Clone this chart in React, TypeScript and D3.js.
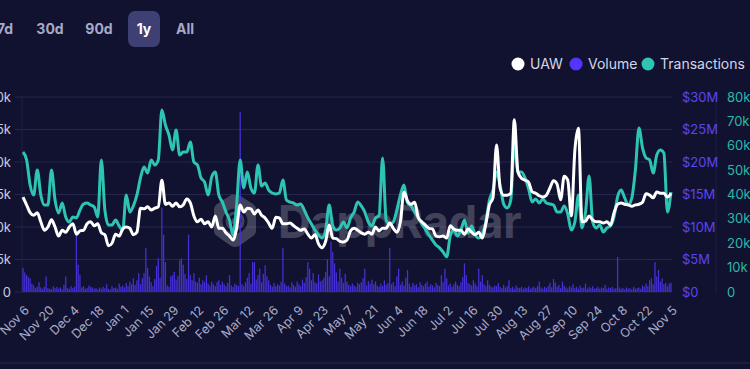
import React from 'react';
import * as d3 from 'd3';

// UAW in thousands, one value every 2 days from Nov 6
const uaw = [
  14.6, 13.4, 12.2, 11.8, 12.2, 10.8, 9.5, 10.0, 11.1, 10.0, 8.6, 9.5, 9.2, 10.0, 10.5, 8.9,
  9.4, 9.5, 10.5, 10.8, 10.2, 10.5, 9.1, 8.8, 7.1, 7.5, 8.9, 8.6, 9.7, 10.0, 9.8, 8.8,
  9.2, 12.9, 12.8, 13.1, 12.6, 12.9, 13.1, 17.2, 13.5, 13.7, 13.2, 13.7, 13.1, 13.4, 14.3, 13.7,
  11.7, 10.8, 11.2, 10.5, 10.8, 10.0, 11.7, 9.8, 9.8, 9.1, 8.6, 8.0, 9.8, 13.4, 12.3, 12.9,
  12.8, 12.0, 12.6, 11.8, 11.4, 10.6, 9.8, 11.5, 11.4, 10.5, 10.5, 10.6, 10.2, 9.8, 9.5, 9.7,
  8.9, 8.3, 8.8, 7.4, 6.8, 7.8, 10.3, 8.3, 8.2, 7.8, 7.7, 8.0, 9.4, 9.8, 9.5, 9.1,
  8.9, 9.2, 8.9, 10.0, 9.4, 9.8, 9.8, 10.6, 9.8, 9.2, 10.8, 15.4, 14.0, 13.5, 13.8, 11.5,
  10.8, 10.3, 9.8, 9.7, 8.6, 8.5, 8.6, 8.3, 10.2, 9.7, 9.5, 9.5, 8.9, 9.7, 9.2, 8.8,
  9.2, 8.3, 10.5, 13.4, 14.5, 22.6, 16.0, 14.9, 14.9, 15.2, 26.5, 18.5, 17.5, 17.2, 16.9, 15.4,
  15.2, 14.8, 14.6, 14.9, 16.0, 17.1, 16.6, 14.2, 17.8, 17.2, 11.7, 21.8, 25.2, 10.8, 10.9, 11.7,
  11.1, 10.8, 10.8, 10.6, 10.8, 10.3, 12.2, 13.5, 13.7, 13.5, 13.4, 13.2, 13.4, 13.5, 13.8, 15.1,
  14.9, 14.5, 15.4, 15.2, 15.2, 14.6, 15.2
];

// Transactions in thousands, one value every 2 days from Nov 6
const transactions = [
  57.4, 54.2, 43.9, 39.8, 50.1, 39.8, 35.7, 35.7, 50.1, 37.7, 32.4, 36.5, 30.8, 28.7, 30.8, 30.4,
  33.6, 36.1, 36.5, 35.7, 34.9, 30.8, 54.2, 33.6, 27.5, 27.5, 29.5, 27.1, 25.4, 39.8, 32.8, 35.3,
  39.8, 46.8, 51.3, 48.8, 54.2, 52.1, 54.2, 74.7, 68.5, 64.4, 58.3, 66.5, 56.2, 57.4, 57.4, 61.5,
  53.3, 52.1, 46.8, 45.1, 39.8, 47.2, 49.2, 39.8, 36.9, 32.8, 29.5, 23.4, 35.7, 54.2, 42.7, 49.2,
  42.7, 40.6, 52.1, 43.5, 44.7, 41.8, 40.6, 40.2, 40.6, 45.9, 37.7, 36.9, 36.5, 35.7, 36.1, 33.6,
  30.4, 27.9, 25.4, 23.4, 22.2, 25.4, 35.7, 27.1, 25.4, 26.3, 28.7, 26.3, 30.4, 32.8, 36.9, 35.3,
  32.8, 28.7, 27.1, 30.4, 31.2, 55.0, 29.5, 27.9, 28.7, 33.6, 39.8, 43.9, 36.5, 35.3, 32.8, 30.4,
  27.9, 25.8, 23.4, 21.3, 19.3, 18.1, 16.4, 14.4, 23.0, 25.4, 23.0, 25.4, 29.5, 24.2, 27.1, 23.4,
  22.2, 23.8, 28.7, 37.7, 41.8, 49.2, 43.9, 36.1, 34.5, 37.7, 61.5, 49.2, 49.2, 46.8, 42.3, 36.9,
  38.2, 36.5, 38.2, 36.5, 36.1, 35.7, 32.8, 32.8, 35.3, 32.0, 25.4, 28.7, 39.8, 26.3, 32.8, 47.6,
  28.7, 26.3, 27.5, 24.6, 26.3, 27.1, 30.8, 39.0, 41.8, 38.6, 35.7, 38.6, 50.1, 67.3, 59.1, 55.0,
  54.2, 48.8, 56.2, 58.3, 57.0, 32.8, 41.0
];

// Daily volume in $M from Nov 6
const volume = [
  3.7, 3.0, 2.6, 2.3, 2.1, 1.3, 1.0, 0.6, 0.8, 1.5, 0.7, 0.5, 0.8, 2.4,
  0.6, 0.5, 0.4, 0.9, 0.6, 0.8, 0.5, 0.7, 0.4, 1.1, 2.4, 0.6, 0.5, 0.9,
  0.6, 0.8, 9.2, 4.2, 2.6, 0.7, 0.9, 0.5, 0.6, 1.0, 0.8, 0.7, 0.5, 0.6,
  0.4, 0.7, 0.5, 0.8, 0.6, 1.2, 0.5, 0.4, 0.9, 0.6, 0.7, 0.5, 1.3, 0.8,
  1.0, 0.7, 1.4, 0.9, 1.6, 1.2, 2.1, 1.1, 1.8, 2.9, 1.2, 2.1, 2.9, 6.8,
  3.7, 2.4, 1.5, 0.9, 2.0, 4.0, 5.2, 2.2, 13.0, 8.8, 4.6, 1.0, 0.8, 2.4,
  2.6, 3.1, 1.9, 2.5, 4.9, 5.2, 4.2, 2.8, 2.0, 8.8, 2.6, 1.8, 2.9, 1.6,
  1.4, 2.2, 1.2, 1.8, 1.5, 2.6, 1.3, 1.0, 1.6, 1.2, 0.9, 1.5, 1.8, 1.1,
  1.6, 1.2, 0.9, 1.4, 2.6, 1.0, 0.8, 1.3, 1.1, 0.9, 27.7, 1.2, 0.9, 1.5,
  2.2, 2.9, 1.3, 4.6, 4.6, 1.9, 2.6, 3.6, 1.5, 2.8, 4.1, 2.4, 1.8, 1.1,
  0.8, 1.4, 0.9, 1.2, 1.0, 1.6, 6.8, 1.3, 0.9, 1.0, 0.7, 1.5, 1.1, 0.8,
  1.6, 1.2, 0.9, 1.9, 1.4, 2.3, 4.6, 3.6, 1.8, 2.9, 1.5, 1.3, 2.7, 1.6,
  1.8, 2.2, 3.1, 5.0, 2.4, 7.7, 6.2, 4.4, 3.0, 1.6, 3.6, 2.2, 1.4, 2.8,
  1.6, 1.1, 0.9, 1.3, 1.0, 0.8, 1.4, 1.2, 1.5, 2.1, 3.6, 1.0, 1.7, 1.3,
  1.9, 1.2, 1.6, 1.0, 0.8, 1.3, 0.9, 1.8, 1.1, 1.4, 6.8, 1.2, 1.5, 0.9,
  2.4, 3.6, 1.1, 1.6, 1.0, 2.2, 3.4, 1.3, 0.8, 1.4, 1.0, 1.2, 0.7, 1.5,
  1.1, 0.9, 1.3, 1.6, 0.8, 1.2, 1.0, 0.7, 1.4, 1.1, 0.9, 2.6, 1.5, 3.6,
  2.1, 1.0, 1.3, 0.8, 1.2, 1.6, 1.1, 0.9, 1.5, 2.3, 4.4, 2.6, 1.4, 1.2,
  1.0, 1.8, 1.3, 0.9, 3.6, 1.6, 2.6, 1.2, 0.9, 1.8, 1.1, 0.8, 0.7, 1.0,
  0.9, 1.4, 0.8, 0.6, 1.1, 0.7, 0.9, 1.8, 0.6, 0.8, 0.5, 1.0, 0.7, 0.6,
  0.8, 0.5, 0.7, 0.6, 0.9, 0.5, 0.7, 0.8, 0.6, 0.9, 1.6, 0.7, 0.5, 0.8,
  0.6, 0.9, 1.4, 0.7, 2.0, 1.5, 0.8, 1.1, 0.6, 1.6, 1.0, 0.7, 0.5, 0.9,
  0.7, 1.2, 0.6, 0.8, 0.5, 1.0, 0.6, 0.7, 1.3, 0.5, 0.8, 0.6, 0.9, 0.5,
  0.6, 0.8, 0.5, 0.7, 0.6, 1.1, 0.5, 0.7, 0.6, 0.8, 0.5, 0.6, 5.4, 0.7,
  0.5, 0.6, 0.4, 0.7, 0.5, 0.6, 0.4, 0.8, 0.5, 0.6, 0.7, 0.5, 1.0, 0.8,
  1.3, 0.9, 1.8, 2.1, 1.2, 4.6, 2.4, 3.4, 1.6, 2.1, 1.2, 1.4, 0.9, 1.3,
  1.4
];

const xTickLabels = [
  'Nov 6', 'Nov 20', 'Dec 4', 'Dec 18', 'Jan 1', 'Jan 15', 'Jan 29', 'Feb 12', 'Feb 26',
  'Mar 12', 'Mar 26', 'Apr 9', 'Apr 23', 'May 7', 'May 21', 'Jun 4', 'Jun 18', 'Jul 2',
  'Jul 16', 'Jul 30', 'Aug 13', 'Aug 27', 'Sep 10', 'Sep 24', 'Oct 8', 'Oct 22', 'Nov 5'
];
const uawTicks = [0, 5, 10, 15, 20, 25, 30];
const uawTickLabels = ['0', '5k', '10k', '15k', '20k', '25k', '30k'];
const volTicks = [0, 5, 10, 15, 20, 25, 30];
const volTickLabels = ['$0', '$5M', '$10M', '$15M', '$20M', '$25M', '$30M'];
const txTicks = [0, 10, 20, 30, 40, 50, 60, 70, 80];
const txTickLabels = ['0', '10k', '20k', '30k', '40k', '50k', '60k', '70k', '80k'];
const periods = ['7d', '30d', '90d', '1y', 'All'];
const legend = [
  { name: 'UAW', color: '#ffffff' },
  { name: 'Volume', color: '#5534ff' },
  { name: 'Transactions', color: '#2ec4b4' }
];

const W = 750, H = 369;
const left = 23, right = 671, top = 97, bottom = 292;
const font = 'Inter, "Noto Sans", sans-serif';

export default function App() {
  const start = new Date(2022, 10, 6);
  const end = new Date(2023, 10, 5);
  const x = d3.scaleTime().domain([start, end]).range([left, right]);
  const yUaw = d3.scaleLinear().domain([0, 30]).range([bottom, top]);
  const yTx = d3.scaleLinear().domain([0, 80]).range([bottom, top]);
  const yVol = d3.scaleLinear().domain([0, 30]).range([bottom, top]);

  const lineDate = (i: number) => d3.timeDay.offset(start, i * 2);
  const uawLine = d3.line<number>().x((d, i) => x(lineDate(i))).y(d => yUaw(d)).curve(d3.curveMonotoneX);
  const txLine = d3.line<number>().x((d, i) => x(lineDate(i))).y(d => yTx(d)).curve(d3.curveMonotoneX);
  const barW = (x(d3.timeDay.offset(start, 1)) - x(start)) * 0.7;
  const buttonX = [5, 50, 99, 144, 185];
  const legendX = [518, 576, 648];

  return (
    <svg width={W} height={H} style={{ position: 'absolute', left: 0, top: 0 }} fontFamily={font}>
      <rect width={W} height={H} fill="#111230" />

      {/* period buttons */}
      <g fontSize={14} fontWeight={700}>
        {periods.map((p, i) => (
          <g key={p}>
            {p === '1y' && <rect x={128} y={11} width={32} height={36} rx={7} fill="#3e4074" />}
            <text x={buttonX[i]} y={34} textAnchor="middle" fill={p === '1y' ? '#ffffff' : '#a6a8c8'}>{p}</text>
          </g>
        ))}
      </g>

      {/* legend */}
      <g fontSize={14}>
        {legend.map((l, i) => (
          <g key={l.name}>
            <circle cx={legendX[i]} cy={64} r={6.5} fill={l.color} />
            <text x={legendX[i] + 12} y={69} fill="#d3d5e8">{l.name}</text>
          </g>
        ))}
      </g>

      {/* grid */}
      {uawTicks.map(t => (
        <line key={t} x1={15} x2={672} y1={yUaw(t)} y2={yUaw(t)} stroke="#25274f" strokeWidth={1} />
      ))}
      <line x1={left - 1} x2={left - 1} y1={top} y2={bottom} stroke="#1f2147" />
      <line x1={716} x2={716} y1={top} y2={bottom} stroke="#1c1e42" />

      {/* watermark */}
      <g opacity={0.2} fill="#ffffff">
        <path d="M235,195 Q237,194 239,195 L253,204 Q256,206 256,209 L256,231 Q256,234 253,236 L239,246 Q235,248 231,246 L217,236 Q214,234 214,231 L214,209 Q214,206 217,204 L231,195 Q233,194 235,195 Z" />
        <circle cx={235} cy={221} r={11} fill="none" stroke="#111230" strokeWidth={3} />
        <circle cx={235} cy={221} r={5} fill="none" stroke="#111230" strokeWidth={3} />
        <text x={278} y={238} fontSize={45} fontWeight={700}>DappRadar</text>
      </g>

      {/* volume bars */}
      <g fill="#4630d8">
        {volume.map((v, i) => {
          const d = d3.timeDay.offset(start, i);
          return <rect key={i} x={x(d) - barW / 2} y={yVol(v)} width={barW} height={bottom - yVol(v)} />;
        })}
      </g>

      <path d={txLine(transactions) || ''} fill="none" stroke="#2ec4b4" strokeWidth={3} strokeLinejoin="round" />
      <path d={uawLine(uaw) || ''} fill="none" stroke="#ffffff" strokeWidth={3} strokeLinejoin="round" />

      {/* left axis */}
      <g fontSize={13} fill="#c9cbe0" textAnchor="end">
        {uawTicks.map((t, i) => (
          <text key={t} x={11} y={yUaw(t)} dy="0.35em">{uawTickLabels[i]}</text>
        ))}
      </g>
      {/* volume axis */}
      <g fontSize={13} fill="#5b44f5">
        {volTicks.map((t, i) => (
          <text key={t} x={682} y={yVol(t)} dy="0.35em">{volTickLabels[i]}</text>
        ))}
      </g>
      {/* transactions axis */}
      <g fontSize={13} fill="#2ab7a9">
        {txTicks.map((t, i) => (
          <text key={t} x={727} y={yTx(t)} dy="0.35em">{txTickLabels[i]}</text>
        ))}
      </g>

      {/* x axis */}
      <g fontSize={12.5} fill="#a9abc8" textAnchor="end">
        {xTickLabels.map((l, i) => {
          const tx = x(d3.timeDay.offset(start, i * 14)) + 7;
          return (
            <text key={l} transform={`translate(${tx},311) rotate(-45)`}>{l}</text>
          );
        })}
      </g>

      <line x1={0} x2={W} y1={363} y2={363} stroke="#26284d" />
    </svg>
  );
}
